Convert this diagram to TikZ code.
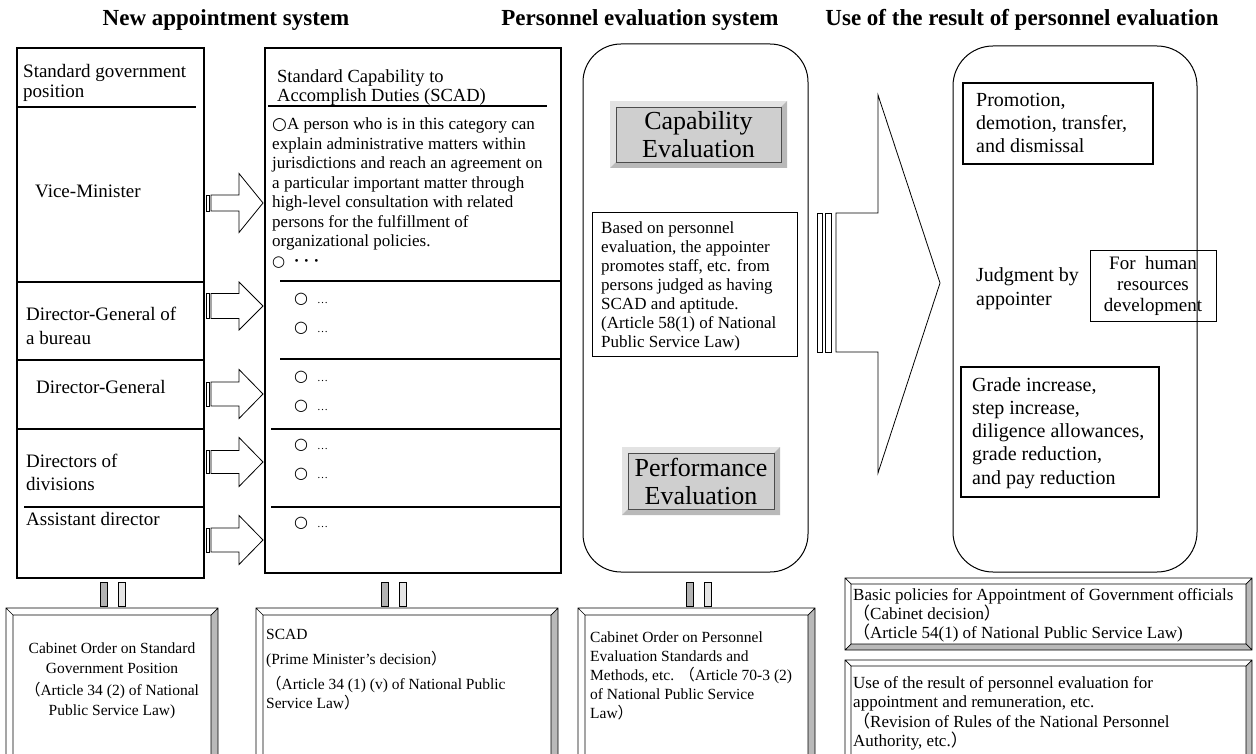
\documentclass[tikz,border=0pt]{standalone}
\usepackage{fontspec}
\setmainfont{Liberation Serif}
\newfontfamily\cjk{Noto Sans CJK JP}
\newfontfamily\symfont{DejaVu Sans}
\newcommand{\fwl}{{\cjk （}}
\newcommand{\fwr}{{\cjk ）}}
\newcommand{\opencirc}{{\symfont ○}}
\newcommand{\fs}[2]{\fontsize{#1}{#2}\selectfont}

% framed plate with bevel: x1 y1 x2 y2 bevel
\newcommand{\plate}[5]{%
  \fill[gray!55] (#3,#2) -- (#3,#4) -- (#1,#4) -- (#1+#5,#4-#5) -- (#3-#5,#4-#5) -- (#3-#5,#2+#5) -- cycle;
  \draw[line width=0.7pt] (#1,#2) rectangle (#3,#4) (#1+#5,#2+#5) rectangle (#3-#5,#4-#5)
    (#1,#2) -- (#1+#5,#2+#5) (#3,#2) -- (#3-#5,#2+#5) (#1,#4) -- (#1+#5,#4-#5) (#3,#4) -- (#3-#5,#4-#5);
}
% grey button
\newcommand{\knob}[4]{%
  \fill[gray!22] (#1,#2) rectangle (#3,#4);
  \fill[gray!55] (#3,#2) -- (#3,#4) -- (#1,#4) -- (#1+6,#4-6) -- (#3-6,#4-6) -- (#3-6,#2+6) -- cycle;
  \fill[gray!38] (#1+6,#2+6) rectangle (#3-6,#4-6);
  \draw[gray!60!black, line width=0.6pt] (#1+6,#2+6) rectangle (#3-6,#4-6);
}
% striped block arrow: y, shaft half, head half
\newcommand{\slimarrow}[3]{%
  \draw[fill=white, line width=0.8pt] (206,#1-#2) rectangle (209.5,#1+#2);
  \draw[fill=white, line width=0.8pt] (211,#1-#2) -- (239,#1-#2) -- (239,#1-#3) -- (263,#1)
    -- (239,#1+#3) -- (239,#1+#2) -- (211,#1+#2) -- cycle;
}
% the two little bars above a plate
\newcommand{\pillars}[1]{%
  \draw[fill=gray!60, line width=0.6pt] (#1,582) rectangle (#1+7,606);
  \draw[fill=gray!20, line width=0.6pt] (#1+18,582) rectangle (#1+25,606);
}

\begin{document}
\begin{tikzpicture}[x=1pt, y=-1pt,
  boxed/.style={draw, anchor=north west, inner sep=0pt, outer sep=0pt},
  heavy/.style={boxed, line width=2.6pt},
  txt/.style={anchor=north west, inner sep=0pt, align=left},
  headline/.style={font=\bfseries\fs{23}{26}},
  knobtext/.style={align=center, font=\fs{26}{28}},
  dotitem/.style={anchor=west, inner sep=0pt, font=\fs{16}{18}}]

\fill[white] (0,0) rectangle (1256,754);
\useasboundingbox (0,0) rectangle (1256,754);

% titles
\node[headline] (newsys) at (226,20) {New appointment system};
\node[headline] (evalsys) at (640,20) {Personnel evaluation system};
\node[headline] (usesys) at (1022,20) {Use of the result of personnel evaluation};

% standard government positions
\node[heavy, minimum width=187, minimum height=530] (posbox) at (17,48) {};
\draw[line width=1.8pt] (17,107) -- (196,107);
\foreach \yy in {282,360,429} \draw[line width=1.8pt] (17,\yy) -- (204,\yy);
\draw[line width=1.8pt] (24,507) -- (204,507);
\node[txt, font=\fs{19}{20}] (poshead) at (23,64) {Standard government\\position};
\node[txt, font=\fs{19}{20}] (vice) at (35,185) {Vice-Minister};
\node[txt, font=\fs{19}{24}] (dgbureau) at (26,307) {Director-General of\\a bureau};
\node[txt, font=\fs{19}{20}] (dg) at (36,380) {Director-General};
\node[txt, font=\fs{19}{22.5}] (divdir) at (26,454) {Directors of\\divisions};
\node[txt, font=\fs{19}{20}] (asst) at (26,512) {Assistant director};

% arrows to SCAD
\slimarrow{203}{8}{29.5}
\slimarrow{306}{12.5}{24}
\slimarrow{394}{12}{24.5}
\slimarrow{462}{11.5}{24.5}
\slimarrow{540}{12}{24.5}

% SCAD
\node[heavy, minimum width=296, minimum height=525] (scadbox) at (265,48) {};
\draw[line width=1.8pt] (268,106) -- (547,106);
\draw[line width=1.2pt] (280,281) -- (561,281) (280,359) -- (561,359)
  (271,429) -- (561,429) (271,507) -- (561,507);
\node[txt, font=\fs{18.5}{19}] (scadhead) at (277,69) {Standard Capability to\\Accomplish Duties (SCAD)};
\node[txt, font=\fs{17}{19.5}] (scadtext) at (272,118) {\opencirc A person who is in this category can\\
  explain administrative matters within\\
  jurisdictions and reach an agreement on\\
  a particular important matter through\\
  high-level consultation with related\\
  persons for the fulfillment of\\
  organizational policies.\\
  {\fs{15}{15}\opencirc}\ \ \textbf{· · ·}};
\foreach \yy in {299,328,377,406,445,474,523}
  \node[dotitem] (dot\yy) at (294,\yy) {\opencirc\hspace{9pt}{\fs{11}{11}…}};

% personnel evaluation
\node[boxed, rounded corners=38, line width=1pt, minimum width=225, minimum height=528] (evalbox) at (583,44) {};
\knob{610}{101}{787}{168}
\node[knobtext] (capab) at (698.5,134.5) {Capability\\Evaluation};
\node[boxed, line width=0.8pt, minimum width=205, minimum height=144] (basedon) at (592,212) {};
\node[txt, font=\fs{17}{19}] (basedtext) at (601,222) {Based on personnel\\evaluation, the appointer\\promotes staff, etc. from\\persons judged as having\\SCAD and aptitude.\\(Article 58(1) of National\\Public Service Law)};
\knob{622}{447}{780}{515}
\node[knobtext] (perf) at (701,481) {Performance\\Evaluation};

% big arrow
\draw[line width=0.8pt, fill=white] (817,213) rectangle (822,352) (825,213) rectangle (831,352);
\draw[line width=0.8pt, fill=white] (836,213) -- (878,213) -- (878,95) -- (940,283)
  -- (878,473) -- (878,352) -- (836,352) -- cycle;

% use of the result
\node[boxed, rounded corners=40, line width=1pt, minimum width=244, minimum height=526] (usebox) at (953,46) {};
\node[boxed, line width=2pt, minimum width=190, minimum height=81] (promo) at (963,83) {};
\node[txt, font=\fs{20}{23}] (promotext) at (976,93) {Promotion,\\demotion, transfer,\\and dismissal};
\node[txt, font=\fs{20}{24}] (judge) at (976,267) {Judgment by\\appointer};
\node[boxed, line width=0.8pt, minimum width=126, minimum height=71] (hrbox) at (1090,250) {};
\node[align=center, font=\fs{19}{21}] (hrtext) at (hrbox.center) {For\ \ human\\resources\\development};
\node[boxed, line width=2pt, minimum width=198, minimum height=130] (paybox) at (961,367) {};
\node[txt, font=\fs{20}{23.3}] (paytext) at (972,377) {Grade increase,\\step increase,\\diligence allowances,\\grade reduction,\\and pay reduction};

% legal bases
\pillars{100}
\pillars{381}
\pillars{686}
\plate{6}{608}{218}{762}{7}
\node[align=center, font=\fs{15.5}{20}] (cabpos) at (112,681) {Cabinet Order on Standard\\Government Position\\[2pt]\fwl Article 34 (2) of National\\Public Service Law)};
\plate{256}{608}{558}{762}{7}
\node[txt, font=\fs{15.5}{19}] (scadrule) at (266,629) {SCAD\\[6pt](Prime Minister’s decision\fwr\\[6pt]\fwl Article 34 (1) (v) of National Public\\Service Law\fwr};
\plate{578}{608}{815}{762}{7}
\node[txt, font=\fs{15.5}{19}] (evalrule) at (590,632) {Cabinet Order on Personnel\\Evaluation Standards and\\Methods, etc. \fwl Article 70-3 (2)\\of National Public Service\\Law\fwr};
\plate{845}{578}{1252}{650}{6}
\node[txt, font=\fs{17}{19}] (basicpol) at (853,588) {Basic policies for Appointment of Government officials\\\fwl Cabinet decision\fwr\\\fwl Article 54(1) of National Public Service Law)};
\plate{845}{660}{1252}{764}{6}
\node[txt, font=\fs{17}{19.5}] (userule) at (853,676) {Use of the result of personnel evaluation for\\appointment and remuneration, etc.\\\fwl Revision of Rules of the National Personnel\\Authority, etc.\fwr};
\end{tikzpicture}
\end{document}
